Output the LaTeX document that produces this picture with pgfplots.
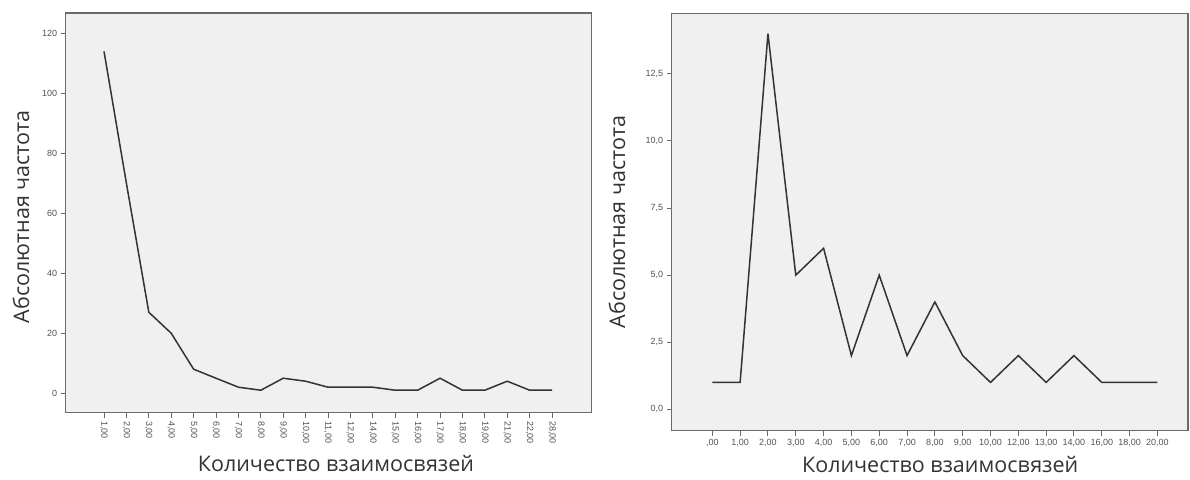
\documentclass[border=0pt]{standalone}
\usepackage{fontspec}
\setmainfont{Liberation Sans}
\newfontfamily\labfont{Open Sans}
\usepackage{pgfplots}
\pgfplotsset{compat=1.18}
\definecolor{bgc}{HTML}{F0F0F0}
\definecolor{axc}{HTML}{6A6A6A}
\definecolor{linec}{HTML}{333333}
\definecolor{txt}{HTML}{333333}

\pgfplotsset{spss/.style={
  scale only axis, axis background/.style={fill=bgc},
  axis line style={axc, line width=1.2pt},
  tick style={axc, line width=1pt},
  tick align=outside, major tick length=5pt,
  xtick pos=bottom, ytick pos=left,
  tick label style={font=\fontsize{9}{10}\selectfont, text=txt!85},
  /pgf/number format/assume math mode=true,
  label style={font=\labfont\fontsize{21.5}{24}\selectfont, text=txt},
}}

\begin{document}
\begin{tikzpicture}[x=1pt,y=1pt]
% left chart
\begin{axis}[spss, at={(0pt,0pt)}, anchor=south west,
  width=525.8pt, height=399.7pt,
  xmin=-1.71, xmax=21.76, ymin=-6.5, ymax=126.8,
  xtick={0,...,20},
  xticklabels={{1,00},{2,00},{3,00},{4,00},{5,00},{6,00},{7,00},{8,00},{9,00},{10,00},{11,00},{12,00},{14,00},{15,00},{16,00},{17,00},{18,00},{19,00},{21,00},{22,00},{28,00}},
  x tick label style={rotate=-90, anchor=west},
  ytick={0,20,40,60,80,100,120},
  xlabel={Количество взаимосвязей}, ylabel={Абсолютная частота},
  xlabel style={at={(axis description cs:0.514,-0.126)}, anchor=center},
  ylabel style={at={(axis description cs:-0.085,0.49)}, anchor=center, rotate=0},
]
\addplot[linec, line width=1.5pt] coordinates {
(0,114) (1,70) (2,27) (3,20) (4,8) (5,5) (6,2) (7,1) (8,5) (9,4) (10,2)
(11,2) (12,2) (13,1) (14,1) (15,5) (16,1) (17,1) (18,4) (19,1) (20,1)};
\end{axis}
% right chart
\begin{axis}[spss, at={(606pt,-18pt)}, anchor=south west,
  width=516.3pt, height=417.4pt,
  xmin=-1.46, xmax=17.1, ymin=-0.8, ymax=14.76,
  xtick={0,...,16},
  xticklabels={{,00},{1,00},{2,00},{3,00},{4,00},{5,00},{6,00},{7,00},{8,00},{9,00},{10,00},{12,00},{13,00},{14,00},{16,00},{18,00},{20,00}},
  ytick={0,2.5,5,7.5,10,12.5},
  yticklabel style={/pgf/number format/.cd, fixed, fixed zerofill, precision=1, use comma},
  xlabel={Количество взаимосвязей}, ylabel={Абсолютная частота},
  xlabel style={at={(axis description cs:0.52,-0.082)}, anchor=center},
  ylabel style={at={(axis description cs:-0.106,0.5)}, anchor=center, rotate=0},
]
\addplot[linec, line width=1.5pt] coordinates {
(0,1) (1,1) (2,14) (3,5) (4,6) (5,2) (6,5) (7,2) (8,4) (9,2) (10,1)
(11,2) (12,1) (13,2) (14,1) (15,1) (16,1)};
\end{axis}
\pgfresetboundingbox
\useasboundingbox (-65.7pt,-66.3pt) rectangle (1124.3pt,412.7pt);
\end{tikzpicture}
\end{document}
